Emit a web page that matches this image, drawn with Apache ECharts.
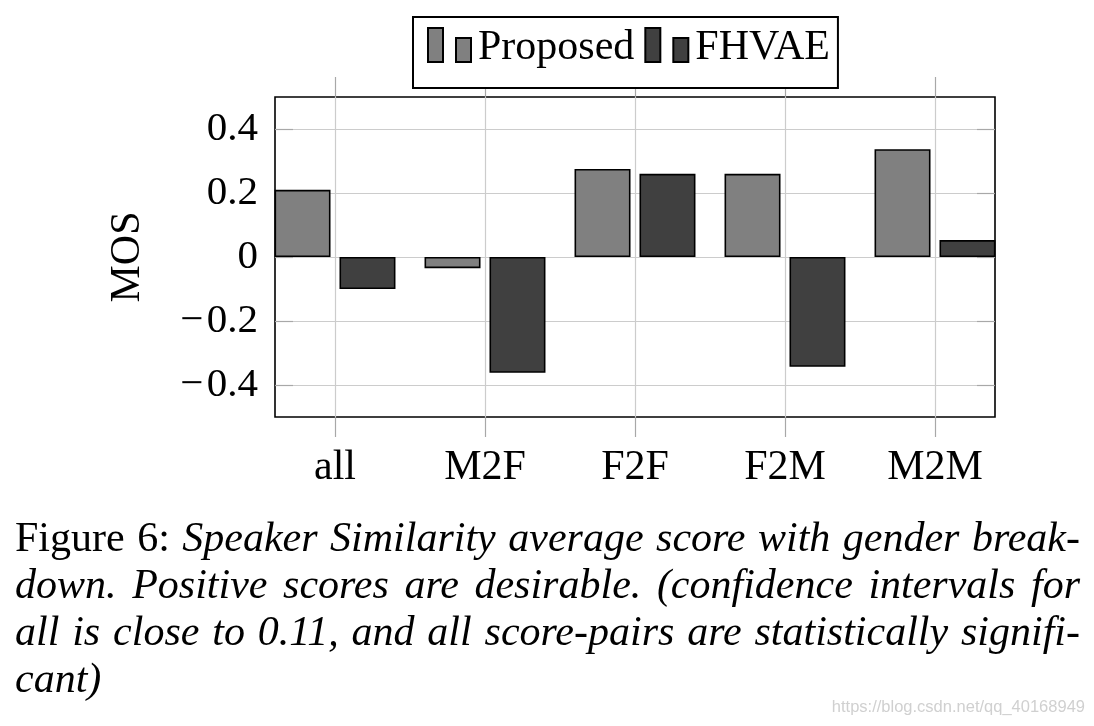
<!DOCTYPE html>
<html><head><meta charset="utf-8">
<script src="https://cdn.jsdelivr.net/npm/echarts@6/dist/echarts.min.js"></script>
<style>html,body{margin:0;padding:0;background:#fff}#c{width:1094px;height:726px}</style>
</head><body><div id="c"></div>
<script>
// ---- data ----
const categories = ['all', 'M2F', 'F2F', 'F2M', 'M2M'];
const proposed = [0.21, -0.035, 0.275, 0.26, 0.337];
const fhvae = [-0.10, -0.362, 0.26, -0.343, 0.053];
const yTicks = [-0.4, -0.2, 0, 0.2, 0.4];
const xTicks = [0, 1, 2, 3, 4];
const seriesNames = ['Proposed', 'FHVAE'];
const yName = 'MOS';
const captionLines = [
  'Figure 6: Speaker Similarity average score with gender break-',
  'down.  Positive scores are desirable.  (confidence intervals for',
  'all is close to 0.11, and all score-pairs are statistically signifi-',
  'cant)'
];
const captionUpright = 'Figure 6:';
const watermark = 'https://blog.csdn.net/qq_40168949';

// ---- styling ----
const SERIF = '"Liberation Serif", "DejaVu Serif", serif';
const CAP_FS = 42;
// two small bars, plus an invisible move-to so the bars sit above the icon centre
const iconPath = 'path://M0,0H15V34H0Z M28,10H43V34H28Z M0,40';

function fmtY(v) {
  if (Math.abs(v) > 0.45) return '';
  if (Math.abs(v) < 1e-9) return '0';
  return (v < 0 ? '\u2212\u200A' : '') + Math.abs(v).toFixed(1);
}

// caption layout (justified)
const cvs = document.createElement('canvas');
const ctx = cvs.getContext('2d');
function measure(t, italic) {
  ctx.font = (italic ? 'italic ' : '') + CAP_FS + 'px ' + SERIF;
  return ctx.measureText(t).width;
}
const capGraphics = [];
const X0 = 15, X1 = 1080, Y0 = 540, LH = 47;
captionLines.forEach((line, li) => {
  let words = line.split(/\s+/).filter(Boolean);
  let uprightCount = captionUpright.split(' ').length;
  let items = words.map((w, wi) => {
    let it = !(li === 0 && wi < uprightCount);
    return { w, it, width: measure(w, it) };
  });
  let sum = items.reduce((a, b) => a + b.width, 0);
  let justify = li < captionLines.length - 1;
  let gap = justify ? (X1 - X0 - sum) / (items.length - 1) : measure(' ', true);
  let x = X0;
  items.forEach(o => {
    capGraphics.push({
      type: 'text', x: x, y: Y0 + li * LH, silent: true,
      style: {
        text: o.w, font: (o.it ? 'italic ' : '') + CAP_FS + 'px ' + SERIF,
        fill: '#000', align: 'left', verticalAlign: 'middle',
        textAlign: 'left', textVerticalAlign: 'middle'
      }
    });
    x += o.width + gap;
  });
});
capGraphics.push({
  type: 'text', x: 1085, y: 707, silent: true,
  style: {
    text: watermark, font: '16.5px "Liberation Sans", Arial, sans-serif',
    fill: '#d0d0d0', align: 'right', verticalAlign: 'middle',
    textAlign: 'right', textVerticalAlign: 'middle'
  }
});

const chart = echarts.init(document.getElementById('c'));
const tickStyle = { color: '#a8a8a8', width: 1.2 };
const option = {
  animation: false,
  backgroundColor: '#fff',
  grid: {
    left: 275, right: 99, top: 97, bottom: 309,
    show: true, borderColor: '#000', borderWidth: 1.6, backgroundColor: 'transparent'
  },
  legend: {
    left: 413, top: 17, orient: 'horizontal',
    itemWidth: 43, itemHeight: 40, itemGap: 10,
    padding: [10, 8, 19, 14],
    borderColor: '#000', borderWidth: 2, backgroundColor: '#fff',
    z: 10,
    textStyle: { fontFamily: SERIF, fontSize: 42, color: '#000', padding: [0, 0, 0, 2] },
    data: seriesNames.map(n => ({ name: n, icon: iconPath }))
  },
  xAxis: [
    {
      type: 'value', position: 'bottom', min: -0.4, max: 4.4,
      axisLine: { show: false, onZero: false },
      axisTick: { show: true, inside: false, length: 20, lineStyle: tickStyle, customValues: xTicks },
      axisLabel: {
        show: true, margin: 30, fontFamily: SERIF, fontSize: 42, color: '#000',
        customValues: xTicks,
        formatter: v => { const i = Math.round(v); return (Math.abs(v - i) < 1e-6 && categories[i] !== undefined) ? categories[i] : ''; }
      },
      splitLine: { show: true, lineStyle: { color: '#cccccc', width: 1.2 } }
    },
    {
      type: 'value', position: 'top', min: -0.4, max: 4.4,
      axisLine: { show: false, onZero: false },
      axisTick: { show: true, inside: false, length: 20, lineStyle: tickStyle, customValues: xTicks },
      axisLabel: { show: false },
      splitLine: { show: false }
    }
  ],
  yAxis: [
    {
      type: 'value', position: 'left', min: -0.5, max: 0.5,
      name: yName, nameLocation: 'middle', nameRotate: 90, nameGap: 126,
      nameTextStyle: { fontFamily: SERIF, fontSize: 42, color: '#000' },
      axisLine: { show: false, onZero: false },
      axisTick: { show: true, inside: true, length: 18, lineStyle: tickStyle, customValues: yTicks },
      axisLabel: {
        show: true, margin: 17, fontFamily: SERIF, fontSize: 41, color: '#000',
        customValues: yTicks, formatter: fmtY
      },
      splitLine: { show: true, lineStyle: { color: '#cccccc', width: 1.2 } }
    },
    {
      type: 'value', position: 'right', min: -0.5, max: 0.5,
      axisLine: { show: false, onZero: false },
      axisTick: { show: true, inside: true, length: 18, lineStyle: tickStyle, customValues: yTicks },
      axisLabel: { show: false },
      splitLine: { show: false }
    }
  ],
  series: [
    {
      name: seriesNames[0], type: 'bar', xAxisIndex: 0, yAxisIndex: 0,
      barWidth: 56, barGap: '16%', clip: true,
      itemStyle: { color: '#808080', borderColor: '#000', borderWidth: 1.6 },
      data: categories.map((c, i) => [i, proposed[i]])
    },
    {
      name: seriesNames[1], type: 'bar', xAxisIndex: 0, yAxisIndex: 0,
      barWidth: 56, barGap: '16%', clip: true,
      itemStyle: { color: '#404040', borderColor: '#000', borderWidth: 1.6 },
      data: categories.map((c, i) => [i, fhvae[i]])
    }
  ],
  graphic: capGraphics
};
chart.setOption(option);
</script>
</body></html>
